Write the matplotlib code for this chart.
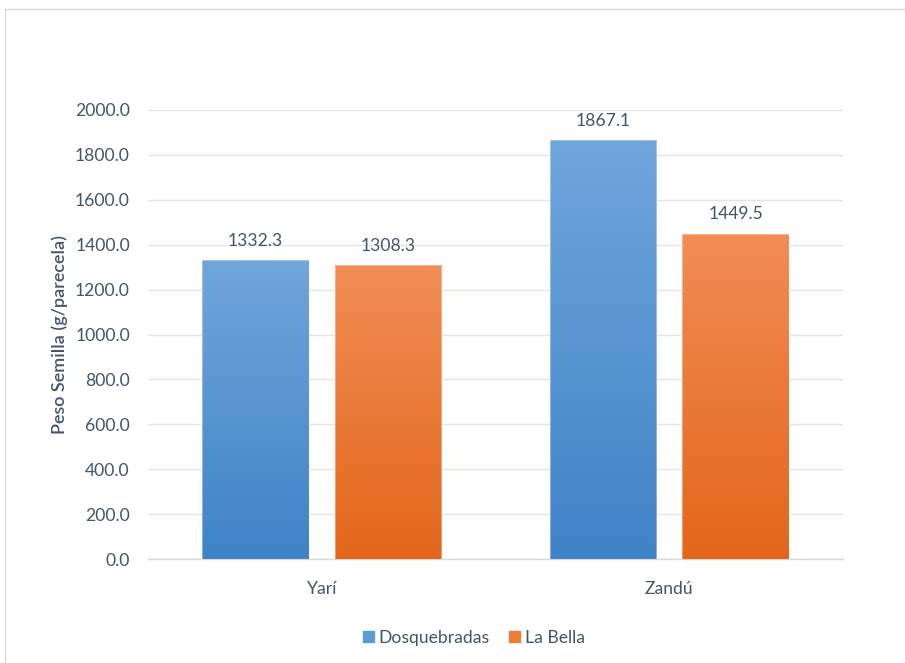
import numpy as np
import matplotlib
matplotlib.use("Agg")
import matplotlib.pyplot as plt
from matplotlib.colors import LinearSegmentedColormap
from matplotlib.patches import Rectangle

# Data
categories = ["Yarí", "Zandú"]
series_names = ["Dosquebradas", "La Bella"]
dosquebradas = [1332.3, 1867.1]
la_bella = [1308.3, 1449.5]
y_ticks = [0, 200, 400, 600, 800, 1000, 1200, 1400, 1600, 1800, 2000]

text_color = "#44546A"
grid_color = "#E3E3E8"
font = "Lato"
fs = 12.6

# Gradient colours (bottom, top) per series
gradients = [("#3F83C7", "#70A6DB"), ("#E3661A", "#F18D55")]
solid = ["#5B9BD5", "#ED7D31"]

fig = plt.figure(figsize=(9.05, 6.63), dpi=100)
fig.patch.set_facecolor("white")

# Chart frame
fig.add_artist(Rectangle((5 / 905, -0.05), 1.1, 1 - 9 / 663 + 0.05,
                         transform=fig.transFigure, fill=False,
                         edgecolor="#D9D9D9", linewidth=1.0))

ax = fig.add_axes([148 / 905, 1 - 559 / 663, 695 / 905, 449 / 663])
ax.set_xlim(-0.5, 1.5)
ax.set_ylim(0, 2000)

x = np.arange(len(categories))
width = 0.307
offset = 0.191

for i, (vals, name) in enumerate(zip([dosquebradas, la_bella], series_names)):
    xs = x + (-offset if i == 0 else offset)
    bars = ax.bar(xs, vals, width, color=solid[i], edgecolor="none",
                  label=name, zorder=2)
    cmap = LinearSegmentedColormap.from_list(f"g{i}", gradients[i])
    grad = np.linspace(0, 1, 256).reshape(-1, 1)
    for b in bars:
        x0, y0 = b.get_x(), b.get_y()
        w, h = b.get_width(), b.get_height()
        im = ax.imshow(grad, cmap=cmap, origin="lower", aspect="auto",
                       extent=[x0, x0 + w, y0, y0 + h], zorder=3,
                       interpolation="bilinear")
        im.set_clip_path(b)
        ax.add_patch(Rectangle((x0, y0), w, h, fill=False,
                               edgecolor=(1, 1, 1, 0.35), linewidth=0.8,
                               zorder=4))
        ax.annotate(f"{h:.1f}", (x0 + w / 2, h), xytext=(0, 8),
                    textcoords="offset points", ha="center", va="bottom",
                    fontsize=fs, color=text_color, family=font)

ax.set_xlim(-0.5, 1.5)
ax.set_ylim(0, 2000)

ax.set_yticks(y_ticks)
ax.set_yticklabels([f"{v:.1f}" for v in y_ticks], fontsize=fs,
                   color=text_color, family=font)
ax.set_xticks(x)
ax.set_xticklabels(categories, fontsize=fs, color=text_color, family=font)
ax.tick_params(axis="both", length=0)
ax.tick_params(axis="y", pad=13)
ax.tick_params(axis="x", pad=16)

ax.grid(axis="y", color=grid_color, linewidth=1.0, zorder=0)
ax.set_axisbelow(True)
for s in ["top", "right", "left"]:
    ax.spines[s].set_visible(False)
ax.spines["bottom"].set_color("#D9D9D9")
ax.spines["bottom"].set_linewidth(1.0)

ax.set_ylabel("Peso Semilla (g/parecela)", fontsize=13, color=text_color,
              family=font, fontweight="semibold", labelpad=5)

handles = [Rectangle((0, 0), 1, 1, color=c) for c in solid]
fig.legend(handles, series_names, loc="center",
           bbox_to_anchor=(474 / 905, 1 - 638 / 663), ncol=2, frameon=False,
           handlelength=0.6, handleheight=0.6, handletextpad=0.3,
           columnspacing=1.1,
           prop={"family": font, "size": fs})
for t in fig.legends[0].get_texts():
    t.set_color(text_color)

fig.savefig("out.png", dpi=100, facecolor="white")
